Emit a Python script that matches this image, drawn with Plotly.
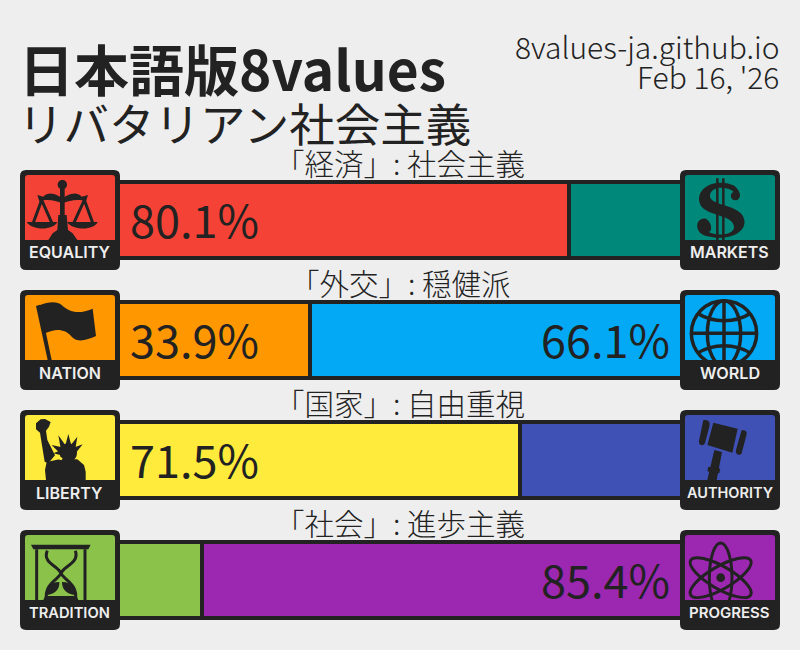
import re, math
import plotly.graph_objects as go

# ---- data ----
axes_names = ["経済", "外交", "国家", "社会"]
left_values = [80.1, 33.9, 71.5, 14.6]
right_values = [19.9, 66.1, 28.5, 85.4]
left_colors = ["#F44336", "#FF9800", "#FFEB3B", "#8BC34A"]
right_colors = ["#00897B", "#03A9F4", "#3F51B5", "#9C27B0"]
left_names = ["EQUALITY", "NATION", "LIBERTY", "TRADITION"]
right_names = ["MARKETS", "WORLD", "AUTHORITY", "PROGRESS"]
left_name_sizes = [16, 16, 16, 14.7]
right_name_sizes = [16, 16.2, 14.5, 15]
axis_labels = ["社会主義", "穏健派", "自由重視", "進歩主義"]
title_main = "日本語版8values"
title_sub = "リバタリアン社会主義"
site_lines = ["8values-ja.github.io", "Feb 16, '26"]

DARK = "#222222"
BG = "#EEEEEE"
W, H = 800, 650
SHOW_MIN = 30  # percentages under this are not printed
FONT = "Noto Sans CJK JP"


def px(x, y):
    return x / W, 1 - y / H


def conv(path, ox=0, oy=0, s=1 / 3):
    """Turn an absolute M/L/C/Q/Z path in crop units into paper fractions."""
    out = []
    for tok in re.findall(r"[MLCQZ]|-?\d+\.?\d*\s+-?\d+\.?\d*", path):
        if tok in "MLCQZ":
            out.append(tok)
        else:
            a, b = tok.split()
            fx, fy = px(ox + float(a) * s, oy + float(b) * s)
            out.append(f"{fx:.5f},{fy:.5f}")
    return " ".join(out)


def ellipse(cx, cy, rx, ry, deg=0):
    k = 0.5523
    pts = [(rx, 0), (rx, k * ry), (k * rx, ry), (0, ry), (-k * rx, ry), (-rx, k * ry), (-rx, 0),
           (-rx, -k * ry), (-k * rx, -ry), (0, -ry), (k * rx, -ry), (rx, -k * ry), (rx, 0)]
    c, sn = math.cos(math.radians(deg)), math.sin(math.radians(deg))
    q = [f"{cx + a * c - b * sn:.2f} {cy + a * sn + b * c:.2f}" for a, b in pts]
    d = "M " + q[0]
    for i in range(1, 13, 3):
        d += f" C {q[i]} {q[i + 1]} {q[i + 2]}"
    return d + " Z"


shapes = []


def solid(path, ox=0, oy=0, color=DARK):
    shapes.append(dict(type="path", xref="paper", yref="paper", layer="above", path=conv(path, ox, oy),
                       fillcolor=color, line=dict(width=0)))


def stroke(path, ox=0, oy=0, w=3.0, color=DARK):
    shapes.append(dict(type="path", xref="paper", yref="paper", layer="above", path=conv(path, ox, oy),
                       line=dict(width=w, color=color), fillcolor="rgba(0,0,0,0)"))


def round_rect(x0, y0, x1, y1, r):
    return (f"M {x0 + r} {y0} L {x1 - r} {y0} Q {x1} {y0} {x1} {y0 + r} L {x1} {y1 - r} Q {x1} {y1} {x1 - r} {y1} "
            f"L {x0 + r} {y1} Q {x0} {y1} {x0} {y1 - r} L {x0} {y0 + r} Q {x0} {y0} {x0 + r} {y0} Z")


def draw_scales():
    solid(ellipse(187, 554, 14, 14))
    solid("M 180 560 L 194 560 L 194 645 L 200 645 L 204 690 L 218 700 L 232 720 L 145 720 L 158 700 L 172 690 L 175 645 L 180 645 Z")
    solid("M 112 585 L 130 590 C 150 570 175 588 187 595 C 200 588 225 570 245 590 L 264 585 L 258 604 "
          "C 235 596 210 600 187 610 C 165 600 140 596 118 604 Z")
    stroke("M 125 600 L 100 668 M 125 600 L 155 668 M 253 600 L 222 668 M 253 600 L 278 668", w=3)
    solid("M 80 666 L 172 666 C 160 692 95 692 80 666 Z")
    solid("M 201 666 L 293 666 C 283 692 216 692 201 666 Z")


def draw_dollar():
    o = (400, 0)
    stroke("M 952 535 L 952 720 M 970 535 L 970 720", *o, w=2.5)
    solid("M 1000 556 C 950 535 890 560 898 605 C 905 650 1000 640 1002 680 C 1004 705 950 710 925 695 "
          "C 935 700 940 670 918 656 C 885 650 880 700 920 708 C 980 725 1040 700 1033 660 "
          "C 1025 610 925 620 930 585 C 935 555 985 560 1000 575 C 985 585 995 605 1012 600 C 1030 590 1015 565 1000 556 Z", *o)


def draw_flag():
    o = (0, 280)
    solid("M 108 78 L 120 74 L 155 240 L 143 240 Z", *o)
    solid("M 118 76 C 145 65 170 62 185 75 C 205 95 235 105 278 86 L 288 168 C 260 180 235 190 215 170 "
          "C 195 145 165 145 135 160 Z", *o)


def draw_liberty():
    o = (0, 280)
    # torch and raised arm
    solid("M 108 430 L 122 418 L 135 417 L 152 426 L 147 440 L 138 452 L 142 480 L 165 526 L 145 550 L 134 545 L 125 490 L 120 458 L 108 448 Z", *o)
    # head and rays
    solid(ellipse(205, 518, 26, 28), *o)
    for tip, a, b in [("205 462", "195 500", "215 500"), ("175 466", "182 505", "198 498"),
                      ("232 470", "210 498", "226 508"), ("155 495", "178 518", "186 502"),
                      ("248 493", "220 503", "228 518"), ("160 520", "184 526", "184 510")]:
        solid(f"M {tip} L {a} L {b} Z", *o)
    # body
    solid("M 138 600 L 135 570 L 140 546 L 178 538 L 232 538 L 252 555 L 257 575 L 257 600 Z", *o)
    solid("M 165 526 L 188 534 L 184 541 L 172 536 Z", *o, color=left_colors[2])


def draw_hourglass():
    o = (0, 280)
    solid("M 93 794 L 272 794 L 265 808 L 100 808 Z", *o)
    stroke("M 110 808 L 110 960 M 255 808 L 255 960", *o, w=3)
    stroke("M 142 812 C 125 850 180 860 182 880 C 182 895 130 910 140 960 M 226 812 C 240 850 186 860 184 880 "
           "C 184 895 236 910 226 960", *o, w=3)
    solid("M 178 906 C 150 905 135 930 138 945 C 160 945 180 930 178 906 Z", *o)
    solid("M 186 906 C 215 905 230 930 227 945 C 205 945 185 930 186 906 Z", *o)
    solid("M 135 948 L 230 948 L 235 960 L 130 960 Z", *o)


def draw_globe():
    o = (500, 280)
    cx, cy = 672, 160
    stroke(ellipse(cx, cy, 98, 98), *o, w=3.5)
    stroke(ellipse(cx, cy, 50, 98), *o, w=3.5)
    stroke(f"M {cx} {cy - 98} L {cx} 240 M {cx - 98} {cy} L {cx + 98} {cy}", *o, w=3.5)
    stroke("M 592 100 C 640 130 705 130 752 100 M 592 220 C 640 190 705 190 752 220", *o, w=3.5)


def draw_gavel():
    o = (500, 280)
    solid("M 610 420 C 625 418 632 425 628 440 L 615 490 C 610 500 595 497 597 483 Z", *o)
    solid("M 640 428 L 713 446 L 697 518 L 622 495 Z", *o)
    solid("M 725 450 C 742 450 742 460 738 470 L 725 520 C 718 530 705 522 708 510 Z", *o)
    solid("M 643 510 L 666 516 L 650 600 L 622 600 Z", *o)
    solid("M 625 560 L 661 566 L 658 580 L 622 574 Z", *o)


def draw_atom():
    o = (500, 280)
    cx, cy = 662, 893
    solid(ellipse(cx, cy, 13, 13), *o)
    for deg in (90, 30, -30):
        stroke(ellipse(cx, cy, 104, 34, deg), *o, w=3)


drawers = {
    ("L", 0): draw_scales, ("R", 0): draw_dollar, ("L", 1): draw_flag, ("R", 1): draw_globe,
    ("L", 2): draw_liberty, ("R", 2): draw_gavel, ("L", 3): draw_hourglass, ("R", 3): draw_atom,
}

annotations = []


def text(x, y, s, size, color=DARK, anchor="left", weight=400, family=FONT):
    fx, fy = px(x, y)
    annotations.append(dict(xref="paper", yref="paper", x=fx, y=fy, text=s, showarrow=False, xanchor=anchor,
                            yanchor="middle", borderpad=0,
                            font=dict(family=family, size=size, color=color, weight=weight)))


def icon(side, i):
    x0 = 20 if side == "L" else 680
    y0 = 170 + 120 * i
    col = (left_colors if side == "L" else right_colors)[i]
    name = (left_names if side == "L" else right_names)[i]
    size = (left_name_sizes if side == "L" else right_name_sizes)[i]
    # hide the bar's end stroke next to the icon
    edge = 120 if side == "L" else 677
    shapes.append(dict(type="path", xref="paper", yref="paper", layer="above",
                       path=conv(f"M {edge} {y0 + 14} L {edge + 3} {y0 + 14} L {edge + 3} {y0 + 86} L {edge} {y0 + 86} Z", s=1),
                       fillcolor=col, line=dict(width=0)))
    shapes.append(dict(type="path", xref="paper", yref="paper", layer="above",
                       path=conv(round_rect(x0, y0, x0 + 100, y0 + 100, 6), s=1), fillcolor=DARK, line=dict(width=0)))
    shapes.append(dict(type="path", xref="paper", yref="paper", layer="above",
                       path=conv(round_rect(x0 + 5, y0 + 5, x0 + 95, y0 + 75, 3), s=1), fillcolor=col, line=dict(width=0)))
    drawers[(side, i)]()
    shapes.append(dict(type="path", xref="paper", yref="paper", layer="above",
                       path=conv(f"M {x0 + 2} {y0 + 70} L {x0 + 98} {y0 + 70} L {x0 + 98} {y0 + 90} L {x0 + 2} {y0 + 90} Z", s=1),
                       fillcolor=DARK, line=dict(width=0)))
    text(x0 + 49.5, y0 + 82.5, name, size, color="#EEEEEE", anchor="center", weight=600, family="Inter")


for i in range(4):
    icon("L", i)
    icon("R", i)
    text(400, 162 + 120 * i, f"「{axes_names[i]}」: {axis_labels[i]}", 29.5, anchor="center", weight=300)

for i, v in enumerate(left_values):
    if v >= SHOW_MIN:
        text(128.5, 218 + 120 * i, f"{v}%", 45)
for i, v in enumerate(right_values):
    if v >= SHOW_MIN:
        text(671, 218 + 120 * i, f"{v}%", 45, anchor="right")

text(18, 67, title_main, 55, weight=700)
text(17, 122, title_sub, 45.5, weight=400)
text(780, 46, site_lines[0], 30, anchor="right", weight=300)
text(780, 76, site_lines[1], 30, anchor="right", weight=300)

fig = go.Figure()
fig.add_bar(y=axes_names, x=left_values, orientation="h", marker=dict(color=left_colors, line=dict(color=DARK, width=4)),
            width=0.633, hoverinfo="skip", showlegend=False)
fig.add_bar(y=axes_names, x=right_values, orientation="h", marker=dict(color=right_colors, line=dict(color=DARK, width=4)),
            width=0.633, hoverinfo="skip", showlegend=False)

fig.update_layout(
    width=W, height=H, autosize=False, barmode="stack", margin=dict(l=0, r=0, t=0, b=0),
    paper_bgcolor=BG, plot_bgcolor=BG, shapes=shapes, annotations=annotations, showlegend=False,
    xaxis=dict(domain=[120 / W, 680 / W], range=[0, 100], visible=False, fixedrange=True),
    yaxis=dict(domain=[10 / H, 490 / H], range=[3.5, -0.5], visible=False, type="category",
               categoryorder="array", categoryarray=axes_names, fixedrange=True),
)

fig.write_html("out.html", config={"displayModeBar": False},
               post_script="document.body.style.margin='0';document.body.style.overflow='hidden';")
